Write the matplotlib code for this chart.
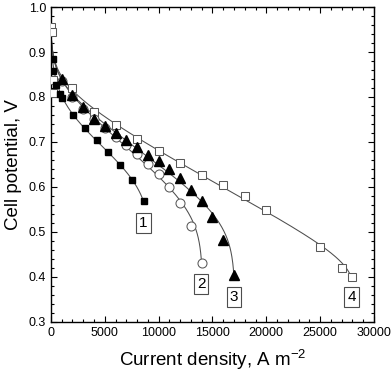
import numpy as np
import matplotlib
matplotlib.use("Agg")
import matplotlib.pyplot as plt
from matplotlib.ticker import MultipleLocator

plt.rcParams['font.family'] = ['Liberation Sans', 'DejaVu Sans']
plt.rcParams['mathtext.fontset'] = 'custom'
plt.rcParams['mathtext.rm'] = 'Liberation Sans'

# measured points, current density (A m-2) and cell potential (V)
s1_x = [150, 200, 450, 850, 1050, 2070, 3160, 4250, 5320, 6410, 7500, 8600]
s1_y = [0.884, 0.858, 0.826, 0.806, 0.797, 0.760, 0.732, 0.704, 0.677, 0.649, 0.615, 0.569]

s2_x = [1000, 2000, 3000, 4000, 5000, 6000, 7000, 8000, 9000, 10000, 11000, 12000, 13000, 14000]
s2_y = [0.836, 0.800, 0.774, 0.750, 0.731, 0.712, 0.694, 0.674, 0.652, 0.629, 0.600, 0.565, 0.514, 0.430]

s3_x = [1000, 2000, 3000, 4000, 5000, 6000, 7000, 8000, 9000, 10000, 11000, 12000, 13000,
        14000, 15000, 16000, 17000]
s3_y = [0.840, 0.804, 0.777, 0.752, 0.736, 0.719, 0.704, 0.689, 0.672, 0.657, 0.639, 0.619,
        0.593, 0.569, 0.532, 0.482, 0.405]

s4_x = [0, 60, 150, 200, 2000, 4000, 6000, 8000, 10000, 12000, 14000, 16000, 18000, 20000,
        25000, 27000, 28000]
s4_y = [0.956, 0.944, 0.838, 0.808, 0.821, 0.766, 0.738, 0.706, 0.680, 0.654, 0.626, 0.605,
        0.580, 0.548, 0.467, 0.419, 0.399]

labels = ['1', '2', '3', '4']
label_x = [8600, 13950, 17000, 27930]
label_y = [0.519, 0.384, 0.356, 0.356]

ocv = 0.95
i0 = 40.0
limiting = [9300, 14080, 17080, 28250]


def fit_curve(x, y, il):
    # V = E0 - A ln(1+i/i0) - R i + B ln(1-i/il), linear in E0, A, R, B
    x = np.asarray(x, float)
    y = np.asarray(y, float)
    keep = x >= 900
    x, y = x[keep], y[keep]
    x = np.concatenate([[0.0], x])
    y = np.concatenate([[ocv], y])
    w = np.ones_like(x)
    w[0] = 10.0
    M = np.column_stack([np.ones_like(x), -np.log(1 + x / i0), -x, np.log(1 - x / il)])
    coef, *_ = np.linalg.lstsq(M * w[:, None], y * w, rcond=None)
    xs = np.linspace(0, x.max(), 600)
    xs = np.concatenate([np.linspace(0, 300, 100), xs[xs > 300]])
    Ms = np.column_stack([np.ones_like(xs), -np.log(1 + xs / i0), -xs, np.log(1 - xs / il)])
    return xs, Ms @ coef


fig, ax = plt.subplots(figsize=(3.92, 3.72), dpi=100)
fig.subplots_adjust(left=0.130, right=0.954, bottom=0.135, top=0.981)

series = [(s1_x, s1_y), (s2_x, s2_y), (s3_x, s3_y), (s4_x, s4_y)]
for (x, y), il in zip(series, limiting):
    xs, ys = fit_curve(x, y, il)
    ax.plot(xs, ys, color='0.3', lw=0.75, zorder=2)

ax.plot(s4_x, s4_y, 's', ms=6, mfc='white', mec='0.35', mew=0.75, zorder=3)
ax.plot(s2_x, s2_y, 'o', ms=6.5, mfc='white', mec='0.35', mew=0.75, zorder=3)
ax.plot(s3_x, s3_y, '^', ms=7.5, color='black', zorder=4)
ax.plot(s1_x, s1_y, 's', ms=5, color='black', zorder=4)

for t, lx, ly in zip(labels, label_x, label_y):
    ax.text(lx, ly, t, fontsize=11, ha='center', va='center',
            bbox=dict(boxstyle='square,pad=0.2', fc='white', ec='0.3', lw=0.8))

ax.set_xlim(0, 30000)
ax.set_ylim(0.3, 1.0)
ax.xaxis.set_major_locator(MultipleLocator(5000))
ax.xaxis.set_minor_locator(MultipleLocator(1000))
ax.yaxis.set_major_locator(MultipleLocator(0.1))
ax.yaxis.set_minor_locator(MultipleLocator(0.02))
ax.yaxis.set_major_formatter(plt.FuncFormatter(lambda v, p: f'{v:.1f}'))
ax.tick_params(which='both', direction='in', top=True, right=True, labelsize=9, width=0.8)
ax.tick_params(which='major', length=4)
ax.tick_params(which='minor', length=2.5)
for sp in ax.spines.values():
    sp.set_linewidth(1.0)

ax.set_xlabel(r'Current density, A m$^{\mathrm{-2}}$', fontsize=13.5, labelpad=6)
ax.set_ylabel('Cell potential, V', fontsize=13.5, labelpad=5)

fig.savefig('out.png', dpi=100)
